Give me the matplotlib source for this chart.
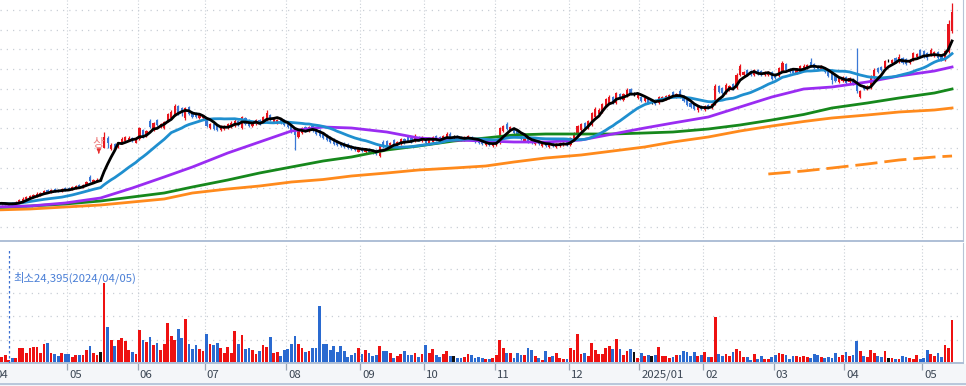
import numpy as np
import pandas as pd
import matplotlib
matplotlib.use("Agg")
import matplotlib.pyplot as plt
from matplotlib.transforms import blended_transform_factory

plt.rcParams['font.family'] = ['Noto Sans CJK KR', 'DejaVu Sans']

# month labels and index of the first trading day of each month
month_labels = ['04', '05', '06', '07', '08', '09', '10', '11', '12', '2025/01', '02', '03', '04', '05']
month_starts = [0, 21, 41, 60, 83, 104, 122, 142, 163, 183, 201, 221, 241, 263]

# daily OHLC (won), 2024/04 .. 2025/05
opens = ([24750, 24750, 25000, 24750, 24500, 25250, 25000, 25250, 25750, 26250, 26500, 26750, 27000, 27250, 27500, 28500, 28000, 28750, 28500, 28250, 29000]
         + [29000, 28750, 29000, 29750, 29250, 29750, 31750, 30500, 30750, 31000, 39000, 41500, 38750, 40000, 39250, 40250, 40750, 41000, 41500, 40250]
         + [41250, 43500, 42000, 45750, 43500, 46000, 44250, 44000, 45750, 46500, 47250, 49500, 49000, 46500, 49250, 48000, 47750, 46500, 46500]
         + [46000, 44000, 45000, 44500, 43500, 43750, 44000, 44250, 44500, 45750, 44000, 46500, 46000, 44500, 45000, 46000, 45500, 46000, 47250, 45500, 45250, 46250, 46000]
         + [45500, 44750, 44000, 41750, 42750, 44250, 43250, 44500, 43750, 43500, 42750, 42250, 41750, 41250, 40750, 40250, 40250, 40000, 39500, 39250, 38000]
         + [39000, 38000, 38750, 38500, 38500, 37000, 40500, 40750, 39250, 41000, 39750, 40000, 41250, 41750, 41500, 40750, 41750, 40750]
         + [41500, 40000, 40500, 42000, 41750, 40750, 41250, 42500, 41500, 42000, 41750, 41000, 41250, 41750, 41250, 41000, 40750, 39750, 40500, 39500]
         + [39750, 40250, 43250, 45000, 43500, 44000, 43250, 42500, 40750, 41750, 41250, 40000, 40750, 39500, 40500, 39250, 40250, 39250, 39500, 39750, 40500]
         + [39750, 41250, 42250, 43500, 45250, 44000, 44750, 46750, 47500, 48000, 49500, 50250, 51750, 50250, 52500, 51000, 52000, 53750, 52500, 51500]
         + [51750, 50750, 51250, 50250, 51000, 50250, 51000, 51250, 51500, 53000, 51750, 53250, 52000, 51000, 50250, 50000, 48500, 49500]
         + [48500, 49750, 49000, 50000, 54500, 54000, 52750, 53500, 55000, 54000, 57250, 57250, 58500, 58250, 57250, 58500, 58250, 57250, 57250, 58000]
         + [57500, 57000, 58250, 60000, 58750, 58500, 57750, 58000, 58750, 59000, 60500, 60000, 59500, 58750, 59000, 58500, 58000, 57250, 55500, 55750]
         + [56750, 55500, 56250, 55500, 51750, 54500, 53750, 54000, 56500, 59000, 59250, 59000, 60750, 60250, 61500, 60500, 61500, 61250, 60250, 61000, 61750, 63500]
         + [63250, 62750, 62250, 62000, 63000, 62250, 61000, 63000, 68250])
closes = ([25000, 25250, 25250, 25000, 24750, 25000, 25500, 26000, 26250, 26750, 27000, 27250, 27500, 27750, 28250, 28000, 28500, 28250, 28250, 28750, 28500]
          + [28750, 29250, 29500, 29250, 29750, 30500, 30750, 31000, 31000, 31000, 41750, 40250, 39750, 39000, 40250, 41250, 41750, 41500, 40750, 41000]
          + [44000, 42000, 43250, 44250, 45250, 44750, 45000, 45500, 47500, 48000, 49500, 47750, 47750, 49000, 47500, 46750, 46750, 47250, 47000]
          + [44500, 45000, 43750, 43500, 44500, 44250, 45000, 45250, 45750, 44750, 46750, 45000, 44500, 45250, 46000, 45000, 46750, 47750, 46000, 46500, 46000, 45250, 44750]
          + [44250, 43000, 42250, 43500, 44000, 43250, 44250, 43250, 42500, 42000, 41500, 41000, 40500, 40000, 39750, 39500, 39250, 39000, 38750, 38500, 39000]
          + [38250, 38750, 38000, 37750, 37500, 39500, 39250, 39500, 40250, 40000, 40500, 41250, 40250, 40750, 40500, 42000, 41000, 41750]
          + [40250, 41000, 41750, 41000, 40750, 42000, 42500, 41500, 41500, 41250, 41000, 41750, 42000, 41000, 40500, 40250, 40000, 40250, 39750, 40250]
          + [40500, 44000, 44500, 43750, 44250, 42750, 42000, 41250, 41500, 40500, 40250, 40750, 40000, 40000, 39500, 40000, 39500, 40000, 40250, 40250, 39750]
          + [41500, 42750, 44500, 45000, 44000, 45750, 47750, 48750, 48500, 50000, 51250, 51750, 50250, 52750, 51250, 52500, 53500, 52500, 52500, 52250]
          + [50750, 51500, 50250, 50250, 50000, 51750, 51750, 52000, 52250, 52000, 52500, 51750, 50750, 49750, 49250, 48750, 49250, 48750]
          + [49500, 49000, 50000, 54500, 53000, 52750, 54750, 54500, 53750, 57250, 59500, 58000, 57250, 57250, 58500, 57500, 57250, 58000, 58000, 56250]
          + [56500, 59000, 60250, 58500, 58000, 57750, 58750, 59500, 59500, 59750, 59500, 59000, 58750, 59500, 58000, 57000, 56000, 55750, 56500, 56500]
          + [55250, 56500, 55000, 53250, 53250, 53750, 54500, 56750, 58500, 58000, 58500, 60750, 60750, 61000, 60500, 61750, 60250, 60000, 61000, 62750, 62500, 62000]
          + [61750, 61500, 63500, 63000, 61500, 61000, 63250, 70000, 73000])
highs = ([25250, 25500, 25500, 25250, 25000, 25500, 25750, 26250, 26750, 27000, 27250, 27500, 28000, 28000, 28500, 28750, 28750, 29000, 28750, 29000, 29250]
         + [29250, 29500, 29750, 30000, 30000, 30750, 32250, 31250, 31500, 31500, 43000, 42000, 40250, 40250, 40500, 41750, 42000, 42000, 41750, 41250]
         + [44250, 43750, 43500, 46250, 45500, 46250, 45250, 45750, 47750, 48500, 50000, 49750, 49250, 49250, 49500, 48250, 48000, 47500, 47250]
         + [46250, 45250, 45250, 44750, 44750, 44750, 45250, 45750, 46250, 46000, 47000, 46750, 46250, 45500, 46250, 46250, 47000, 48500, 47500, 46750, 46250, 46500, 46250]
         + [45750, 45000, 44250, 43750, 44250, 44500, 44500, 44750, 44000, 43750, 43000, 42500, 42000, 41500, 41000, 40500, 40500, 40250, 39750, 39500, 39250]
         + [39250, 39000, 39000, 38750, 38750, 39750, 41000, 41000, 40500, 41250, 40750, 41500, 41500, 42000, 41750, 42500, 42000, 42000]
         + [41750, 41250, 42000, 42250, 42000, 42250, 43000, 43000, 42250, 42250, 42000, 42000, 42250, 42000, 41500, 41250, 41000, 40500, 40750, 40500]
         + [41000, 44250, 44750, 45500, 44500, 44250, 43500, 42750, 41750, 42000, 41500, 41000, 41000, 40250, 40750, 40250, 40500, 40250, 40500, 40500, 40750]
         + [41750, 43000, 44750, 45250, 45500, 46000, 48000, 49250, 49000, 50250, 51500, 52250, 52000, 53000, 52750, 52750, 54000, 54000, 53000, 52500]
         + [52000, 51750, 51500, 50750, 51250, 52000, 52000, 52250, 52500, 53250, 52750, 53750, 52250, 51250, 50500, 50250, 49500, 49750]
         + [49750, 50000, 50250, 55000, 54750, 54250, 55250, 54750, 55250, 57750, 60000, 58250, 58750, 58500, 58750, 58750, 58500, 58250, 58250, 58250]
         + [57750, 59250, 60750, 60250, 59000, 58750, 59000, 59750, 60000, 60000, 61500, 60250, 59750, 59750, 59250, 58750, 58250, 57500, 56750, 57000]
         + [57000, 56750, 56500, 64000, 53500, 54750, 54750, 57250, 59000, 59250, 59500, 61000, 61250, 61250, 61750, 62500, 61750, 61500, 61250, 63000, 62750, 63750]
         + [63500, 63000, 64000, 63250, 63250, 62500, 63500, 71000, 75250])
lows = ([24500, 24500, 24750, 24750, 24395, 24750, 24750, 25250, 25750, 26000, 26250, 26500, 26750, 27000, 27500, 27750, 27750, 28000, 28000, 28000, 28250]
        + [28500, 28500, 28750, 29000, 29000, 29500, 30500, 30250, 30500, 30750, 39000, 39000, 38500, 38750, 39000, 40000, 40500, 40750, 40500, 40250]
        + [41000, 41500, 41750, 44000, 43250, 44500, 44000, 43750, 45500, 46250, 47000, 47250, 47000, 46000, 47250, 46500, 46500, 46250, 46250]
        + [44250, 43750, 43500, 43250, 43250, 43500, 43750, 44000, 44250, 44500, 43750, 44750, 44250, 44250, 44750, 44750, 45250, 45750, 45750, 45250, 45000, 45000, 44500]
        + [44000, 42750, 38500, 41500, 42500, 43000, 43000, 43000, 42250, 41750, 41250, 40750, 40250, 39750, 39500, 39250, 39000, 38750, 38500, 38250, 38000]
        + [38000, 37750, 37750, 37500, 37250, 36750, 39000, 39250, 39000, 39750, 39500, 39750, 40000, 40500, 40250, 40500, 40750, 40500]
        + [40000, 39750, 40250, 40750, 40500, 40500, 41000, 41250, 41250, 41000, 40750, 40750, 41000, 40750, 40250, 40000, 39750, 39500, 39500, 39250]
        + [39500, 40000, 43000, 43500, 43250, 42500, 41750, 41000, 40500, 40250, 40000, 39750, 39750, 39250, 39250, 39000, 39250, 39000, 39250, 39500, 39500]
        + [39500, 41000, 42000, 43250, 43750, 43750, 44500, 46500, 47000, 47750, 49250, 50000, 50000, 50000, 51000, 50750, 51750, 52250, 52000, 51250]
        + [50500, 50500, 50000, 50000, 49750, 50000, 50750, 51000, 51250, 51750, 51500, 51500, 50500, 49500, 49000, 48500, 48000, 48500]
        + [48250, 48750, 48750, 49750, 52750, 52500, 52500, 53250, 53500, 53750, 57000, 56750, 57000, 57000, 57000, 57250, 57000, 57000, 57000, 56000]
        + [56250, 56750, 58000, 58250, 57750, 57500, 57500, 57750, 58500, 58750, 59250, 58750, 58500, 58500, 57750, 56750, 55000, 55500, 55250, 55500]
        + [55000, 55250, 54750, 52750, 51500, 53500, 53500, 53750, 56250, 57750, 58250, 58750, 60500, 60000, 60250, 60250, 60000, 59750, 60000, 60750, 61500, 61750]
        + [61500, 61000, 62000, 61750, 61250, 60750, 60750, 62750, 67750])
# daily volume, thousand shares
volumes = ([60, 60, 60, 80, 30, 50, 50, 150, 150, 100, 150, 160, 160, 100, 190, 200, 100, 90, 70, 100, 90]
           + [90, 60, 80, 80, 80, 130, 170, 100, 80, 110, 800, 360, 230, 170, 230, 250, 220, 130, 110, 90]
           + [330, 230, 210, 260, 180, 200, 130, 190, 400, 270, 230, 340, 250, 440, 190, 140, 180, 140, 120]
           + [290, 190, 180, 200, 150, 100, 160, 100, 320, 190, 280, 140, 150, 130, 90, 120, 180, 160, 260, 100, 110, 70, 130]
           + [140, 190, 270, 190, 150, 110, 120, 150, 150, 570, 190, 190, 130, 170, 110, 170, 120, 60, 80, 100, 150]
           + [90, 130, 100, 70, 80, 170, 120, 120, 100, 50, 70, 90, 120, 80, 80, 100, 60, 90]
           + [180, 100, 140, 80, 60, 90, 120, 70, 70, 50, 50, 60, 90, 80, 50, 60, 50, 40, 40, 50]
           + [80, 230, 150, 100, 100, 50, 100, 80, 80, 150, 130, 70, 50, 30, 120, 60, 70, 100, 50, 40, 40]
           + [150, 130, 290, 90, 100, 70, 200, 130, 90, 90, 150, 170, 140, 240, 140, 80, 120, 140, 110, 50]
           + [100, 70, 80, 70, 80, 160, 70, 70, 50, 60, 80, 80, 120, 110, 70, 110, 70, 80]
           + [110, 60, 60, 460, 90, 70, 90, 70, 110, 140, 120, 60, 60, 30, 90, 40, 70, 40, 40, 60]
           + [80, 100, 90, 80, 40, 70, 70, 60, 70, 60, 50, 90, 80, 60, 50, 60, 50, 100, 60, 80]
           + [110, 70, 80, 220, 120, 70, 60, 130, 100, 70, 60, 120, 50, 50, 40, 40, 70, 60, 50, 40, 80, 40]
           + [50, 130, 90, 70, 100, 60, 180, 150, 430])

# long moving averages (60 / 120 / 240 day), read at sample days
ma_days = [0, 10, 20, 30, 39, 48, 56, 66, 75, 84, 93, 101, 111, 120, 130, 139, 147, 156, 166, 175, 184, 192, 202, 211, 220, 229, 237, 247, 256, 266, 271]
ma60 = [24250, 24500, 25250, 26500, 29000, 31750, 34250, 37750, 40500, 43250, 44250, 44000, 43000, 41500, 41000, 40750, 40500, 40500, 41000, 42500,
        44000, 45250, 46750, 49250, 51750, 53750, 54250, 55500, 57000, 58250, 59250]
ma120 = [24125, 24500, 25000, 25750, 26750, 27750, 29250, 31000, 32750, 34250, 35750, 36750, 38500, 39500, 40750, 41500, 42250, 42500, 42500, 42500,
         42750, 43000, 43750, 44750, 46000, 47375, 49000, 50250, 51500, 52750, 53750]
ma240 = [23500, 23750, 24250, 24750, 25500, 26250, 27750, 28750, 29500, 30500, 31125, 32000, 32750, 33500, 34000, 34500, 35500, 36500, 37250, 38250,
         39250, 40500, 41750, 43250, 44500, 45625, 46500, 47250, 48000, 48500, 49000]
# dashed trend segment
trend_days = [219, 229, 237, 247, 256, 266, 271]
trend_vals = [32500, 33250, 34000, 35000, 36000, 36750, 37000]

low_day = 4
low_text = '최소24,395(2024/04/05)'
mark_day = 29.5
mark_price = 40250

RED = '#e8141c'
BLUE = '#3a78d6'
VRED = '#ee1111'
VBLUE = '#2a6ad0'
GRID = '#c9cfd6'

o = np.array(opens, float)
c = np.array(closes, float)
h = np.array(highs, float)
l = np.array(lows, float)
v = np.array(volumes, float)
x = np.arange(len(c))
ccol = np.where(c > o, RED, np.where(c < o, BLUE, '#000000'))
vcol = np.where(c > o, VRED, np.where(c < o, VBLUE, '#111111'))

W, H = 966, 386
def box(left, top, right, bottom):
    return [left / W, 1 - bottom / H, (right - left) / W, (bottom - top) / H]

fig = plt.figure(figsize=(W / 100, H / 100), dpi=100)
fig.patch.set_facecolor('white')
# label strip under volume panel
fig.patches.append(plt.Rectangle((0, 0), 1, 1 - 364 / H, transform=fig.transFigure,
                                 facecolor='#f4f6f9', edgecolor='none', zorder=-5))

ax = fig.add_axes(box(0, 0, 963, 241))
axv = fig.add_axes(box(0, 243, 963, 363), sharex=ax)
bounds = [s - 0.5 for s in month_starts]

for a in (ax, axv):
    a.set_facecolor('white')
    a.set_xticks(bounds)
    a.grid(axis='x', color=GRID, linestyle=(0, (1, 2)), lw=0.8)
    a.grid(axis='y', color=GRID, linestyle=(0, (1, 4)), lw=0.9)
    a.set_axisbelow(True)
    for s in ('left', 'top'):
        a.spines[s].set_visible(False)
    a.spines['right'].set_color('#b7c4d6')
    a.spines['bottom'].set_color('#aebfd6')
    a.spines['bottom'].set_linewidth(1.4)

ax.set_xlim(1.54, 274.1)
ax.set_ylim(15750, 76000)
ax.set_yticks(np.linspace(73500, 19250, 12))
ax.tick_params(length=0, labelleft=False, labelbottom=False)

# candles
ax.vlines(x, l, h, colors=ccol, lw=0.9, zorder=2)
body = np.maximum(np.abs(c - o), 120)
ax.bar(x, body, bottom=np.minimum(o, c) - (body - np.abs(c - o)) / 2, width=0.62,
       color=ccol, linewidth=0, zorder=2)

# moving averages
ma5 = pd.Series(c).rolling(5, min_periods=1).mean()
ma20 = pd.Series(c).rolling(20, min_periods=1).mean()
ax.plot(ma_days, ma240, color='#ff8a1c', lw=2, zorder=3)
ax.plot(ma_days, ma120, color='#16881c', lw=2, zorder=3)
ax.plot(ma_days, ma60, color='#9a2cf2', lw=2, zorder=3)
ax.plot(x, ma20, color='#1f8fcf', lw=2, zorder=4)
ax.plot(x, ma5, color='#000000', lw=2, zorder=5)
ax.plot(trend_days, trend_vals, color='#ff8a1c', lw=2, linestyle=(0, (8, 2.5)), zorder=3)

# limit-up marker
ax.text(mark_day - 0.3, mark_price, '상', color='#ee8080', fontsize=9, ha='center', va='center', zorder=6)
ax.annotate('', xy=(mark_day, mark_price - 3300), xytext=(mark_day, mark_price - 1700),
            arrowprops=dict(arrowstyle='-|>', color='#e83030', lw=0.8, mutation_scale=6), zorder=6)

# volume
axv.bar(x, v, width=0.78, color=vcol, linewidth=0, zorder=2)
axv.set_ylim(0, 1200)
axv.set_yticks([235, 470, 705, 940])
axv.tick_params(axis='y', length=0, labelleft=False)
axv.tick_params(axis='x', direction='out', length=5, width=0.9, color='#9aa6b4', labelbottom=False)
axv.vlines(low_day, 0, 1150, colors='#3a6fd0', linestyles=(0, (2, 2)), lw=0.9, zorder=3)
axv.annotate(low_text, xy=(low_day, 850), xytext=(3, 0), textcoords='offset points',
             color='#4a7fd6', fontsize=8.2, va='center', ha='left')

trans = blended_transform_factory(axv.transData, axv.transAxes)
for b, lab in zip(bounds, month_labels):
    axv.annotate(lab, xy=(b, 0), xycoords=trans, xytext=(1.5, -5), textcoords='offset points',
                 ha='left', va='top', fontsize=8.2, color='#3b4654', annotation_clip=False)

# bottom frame line
fig.add_artist(plt.Line2D([0, 1], [1 - 384 / H, 1 - 384 / H], transform=fig.transFigure,
                          color='#aebfd6', lw=1.2))

fig.savefig('out.png', dpi=100)
